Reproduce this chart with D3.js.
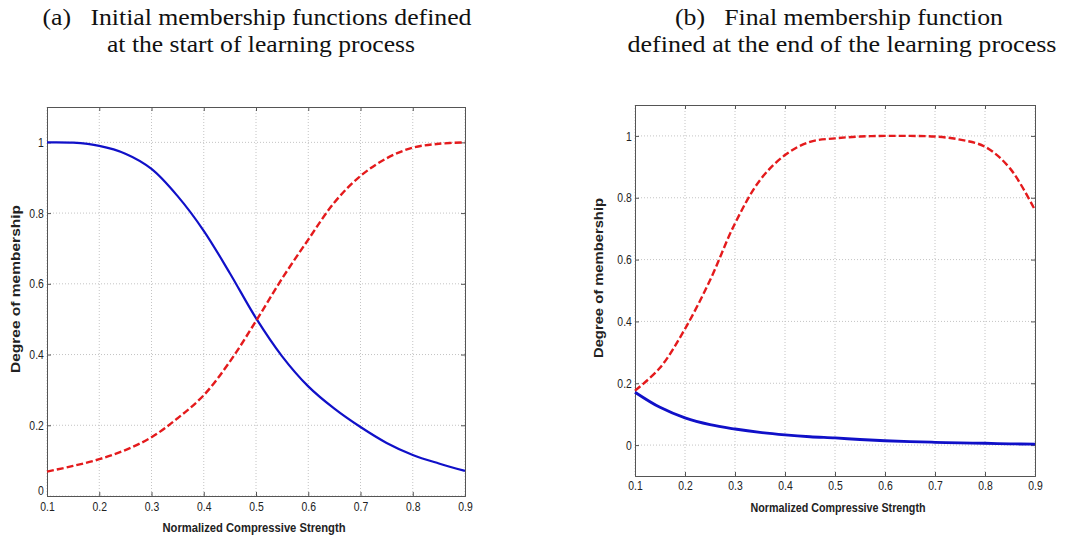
<!DOCTYPE html>
<html>
	<head>
		<meta charset="utf-8">
		<title>membership functions</title>
		<script src="https://cdn.jsdelivr.net/npm/d3@7/dist/d3.min.js"></script>
	</head>
	<body style="margin:0;background:#fff">
		<div id='viz'></div>
		<script>
			// x positions shared by all curves
			var xVals = [0.1, 0.15, 0.2, 0.25, 0.3, 0.35, 0.4, 0.45, 0.5, 0.55, 0.6, 0.65, 0.7, 0.75, 0.8, 0.85, 0.9];
			// (a) initial membership functions
			var initBlue = [1.0, 0.999, 0.99, 0.968, 0.925, 0.848, 0.75, 0.63, 0.503, 0.395, 0.31, 0.247, 0.195, 0.15, 0.116, 0.092, 0.071];
			var initRed = [0.069, 0.085, 0.104, 0.13, 0.166, 0.22, 0.285, 0.38, 0.495, 0.615, 0.725, 0.83, 0.905, 0.955, 0.985, 0.996, 1.0];
			// (b) final membership functions
			var finalBlue = [0.171, 0.122, 0.088, 0.066, 0.052, 0.041, 0.033, 0.027, 0.023, 0.018, 0.014, 0.011, 0.009, 0.007, 0.006, 0.004, 0.003];
			var finalRed = [0.176, 0.25, 0.376, 0.533, 0.717, 0.857, 0.938, 0.981, 0.992, 0.998, 1.0, 1.0, 0.998, 0.988, 0.965, 0.895, 0.76];
			var xTicks = [0.1, 0.2, 0.3, 0.4, 0.5, 0.6, 0.7, 0.8, 0.9];
			var yTicks = [0, 0.2, 0.4, 0.6, 0.8, 1];
			var titleA = ['(a)\u00a0\u00a0 Initial membership functions defined', 'at the start of learning process'];
			var titleB = ['(b)\u00a0\u00a0 Final membership function', 'defined at the end of the learning process'];
			var xTitle = 'Normalized Compressive Strength';
			var yTitle = 'Degree of membership';

			var serif = '"Liberation Serif", "Times New Roman", serif';
			var sans = '"Liberation Sans", Arial, sans-serif';

			var width = 1073, height = 537;
			var svg = d3.select('#viz').append('svg')
				.attr('width', width)
				.attr('height', height);

			function title(lines, cx1, cx2, w1, w2){
				[[lines[0],cx1,25,w1],[lines[1],cx2,52,w2]].forEach(r=>{
					svg.append('text').attr('x',r[1]).attr('y',r[2])
						.style('font-family',serif).style('font-size','24px').style('fill','#111')
						.attr('text-anchor','middle').attr('textLength',r[3]).attr('lengthAdjust','spacingAndGlyphs')
						.text(r[0]);
				});
			}
			title(titleA, 257, 261, 429, 308);
			title(titleB, 839, 842, 328, 429);

			function panel(p){
				var x = d3.scaleLinear().domain([0.1,0.9]).range([p.l,p.r]);
				var y = d3.scaleLinear().domain(p.yd).range([p.b,p.t]);
				var g = svg.append('g');
				// grid
				g.append('g').selectAll('line').data(xTicks).join('line')
					.attr('x1',d=>x(d)).attr('x2',d=>x(d)).attr('y1',p.t).attr('y2',p.b)
					.attr('stroke','#c4c4c4').attr('stroke-dasharray','1,2');
				g.append('g').selectAll('line').data(yTicks).join('line')
					.attr('x1',p.l).attr('x2',p.r).attr('y1',d=>y(d)).attr('y2',d=>y(d))
					.attr('stroke','#c4c4c4').attr('stroke-dasharray','1,2');
				// axes with inward ticks
				var ax = g.append('g').attr('transform','translate(0,'+p.b+')')
					.call(d3.axisBottom(x).tickValues(xTicks).tickSize(-4).tickPadding(p.xpad).tickFormat(d3.format('~g')));
				var ay = g.append('g').attr('transform','translate('+p.l+',0)')
					.call(d3.axisLeft(y).tickValues(yTicks).tickSize(-4).tickPadding(4).tickFormat(d3.format('~g')));
				var at = g.append('g').attr('transform','translate(0,'+p.t+')')
					.call(d3.axisTop(x).tickValues(xTicks).tickSize(-4).tickFormat(''));
				var ar = g.append('g').attr('transform','translate('+p.r+',0)')
					.call(d3.axisRight(y).tickValues(yTicks).tickSize(-4).tickFormat(''));
				[ax,ay,at,ar].forEach(a=>{
					a.select('.domain').attr('stroke','#555');
					a.selectAll('.tick line').attr('stroke','#555');
				});
				// narrow tick labels, like the original
				[ax,ay].forEach(a=>a.selectAll('.tick text')
					.style('font-family',sans).style('font-size','13px').style('fill','#222')
					.attr('transform','scale(0.8,1)'));
				// the zero label sits right on the x axis in panel (a); lift it a little
				if (p.yd[0] === 0) ay.selectAll('.tick text').filter(d=>d===0).attr('dy','-0.1em');
				var line = d3.line().x(d=>x(d[0])).y(d=>y(d[1])).curve(d3.curveCatmullRom);
				g.append('path').datum(d3.zip(xVals,p.blue))
					.attr('fill','none').attr('stroke','#1010c8').attr('stroke-width',p.bw).attr('d',line);
				g.append('path').datum(d3.zip(xVals,p.red))
					.attr('fill','none').attr('stroke','#e41a1c').attr('stroke-width',2.4)
					.attr('stroke-dasharray','7,3').attr('d',line);
				// axis titles
				g.append('text').attr('text-anchor','middle')
					.style('font-family',sans).style('font-size','13px').style('font-weight','bold').style('fill','#222')
					.attr('textLength',p.xtw).attr('lengthAdjust','spacingAndGlyphs')
					.attr('x',p.xtx).attr('y',p.xty).text(xTitle);
				g.append('text').attr('text-anchor','middle')
					.style('font-family',sans).style('font-size','13px').style('font-weight','bold').style('fill','#222')
					.attr('textLength',p.ytw).attr('lengthAdjust','spacingAndGlyphs')
					.attr('transform','translate('+p.ytx+','+p.yty+') rotate(-90)').text(yTitle);
			}

			panel({l:47, r:465, t:107, b:496, yd:[0,1.1], xpad:6, blue:initBlue, red:initRed, bw:2.2,
				xtx:254, xty:532, xtw:183, ytx:20, yty:289, ytw:168});
			panel({l:635, r:1035, t:105, b:476, yd:[-0.1,1.1], xpad:5, blue:finalBlue, red:finalRed, bw:2.8,
				xtx:838, xty:512, xtw:175, ytx:603, yty:278, ytw:160});
		</script>
	</body>
</html>
